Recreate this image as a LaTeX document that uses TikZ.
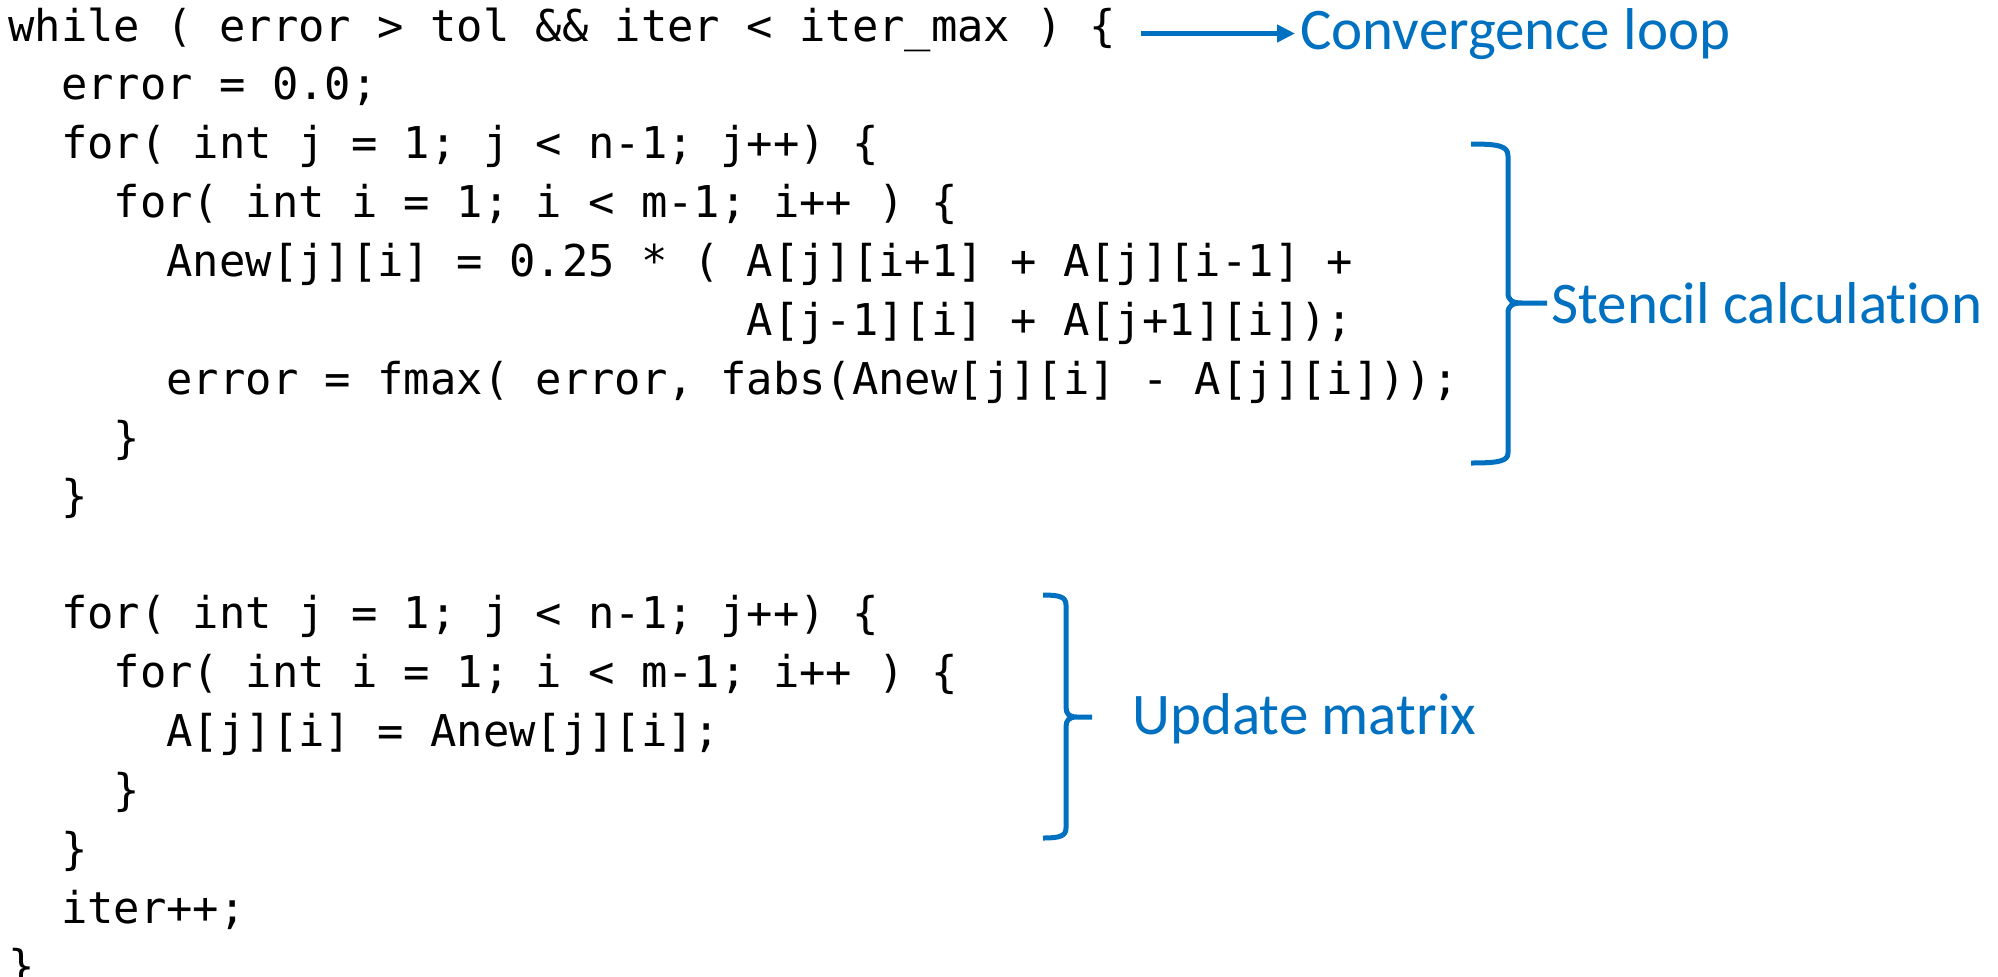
\documentclass[tikz,border=0pt]{standalone}
\usepackage{fontspec}
\setmonofont{DejaVu Sans Mono}
\newfontfamily\notefont[Ligatures={NoCommon,NoContextual,NoRare},Contextuals=NoAlternate]{Carlito}
\usetikzlibrary{arrows.meta,positioning}
\definecolor{codeblue}{HTML}{0070C0}
\tikzset{
  codeline/.style={inner sep=0pt, text height=20pt, text depth=9.03pt,
    font=\ttfamily\fontsize{21.9}{29}\selectfont\frenchspacing},
  note/.style={inner sep=0pt, anchor=base west, text=codeblue,
    font=\notefont\fontsize{29.5}{35}\selectfont},
  bracket/.style={draw=codeblue, line width=2.5pt, line join=round},
  pointer/.style={draw=codeblue, line width=2.5pt,
    -{Triangle[length=9pt,width=8.5pt]}, shorten >=2.5pt}
}

\begin{document}
\begin{tikzpicture}[x=0.5pt,y=-0.5pt]
        \useasboundingbox (0,0) rectangle (1998,976);
        % code lines
        \node[codeline, anchor=base west] (ln1) at (8,41) {while ( error > tol \&\& iter < iter\_max ) \{};
        \node[codeline, below=0pt of ln1.south west, anchor=north west] (ln2) {~~error = 0.0;};
        \node[codeline, below=0pt of ln2.south west, anchor=north west] (ln3) {~~for( int j = 1; j < n-1; j++) \{};
        \node[codeline, below=0pt of ln3.south west, anchor=north west] (ln4) {~~~~for( int i = 1; i < m-1; i++ ) \{};
        \node[codeline, below=0pt of ln4.south west, anchor=north west] (ln5) {~~~~~~Anew[j][i] = 0.25 * ( A[j][i+1] + A[j][i-1] +};
        \node[codeline, below=0pt of ln5.south west, anchor=north west] (ln6) {~~~~~~\phantom{Anew[j][i] = 0.25 * ( }A[j-1][i] + A[j+1][i]);};
        \node[codeline, below=0pt of ln6.south west, anchor=north west] (ln7) {~~~~~~error = fmax( error, fabs(Anew[j][i] - A[j][i]));};
        \node[codeline, below=0pt of ln7.south west, anchor=north west] (ln8) {~~~~\}};
        \node[codeline, below=0pt of ln8.south west, anchor=north west] (ln9) {~~\}};
        \node[codeline, below=29.03pt of ln9.south west, anchor=north west] (ln10) {~~for( int j = 1; j < n-1; j++) \{};
        \node[codeline, below=0pt of ln10.south west, anchor=north west] (ln11) {~~~~for( int i = 1; i < m-1; i++ ) \{};
        \node[codeline, below=0pt of ln11.south west, anchor=north west] (ln12) {~~~~~~A[j][i] = Anew[j][i];};
        \node[codeline, below=0pt of ln12.south west, anchor=north west] (ln13) {~~~~\}};
        \node[codeline, below=0pt of ln13.south west, anchor=north west] (ln14) {~~\}};
        \node[codeline, below=0pt of ln14.south west, anchor=north west] (ln15) {~~iter++;};
        \node[codeline, below=0pt of ln15.south west, anchor=north west] (ln16) {\}};
        % notes
        \node[note] (conv) at (1300,49) {Convergence loop};
        \node[note] (stencil) at (1551,323) {Stencil calculation};
        \node[note] (update) at (1132,734) {Update matrix};
        \coordinate (convfrom) at ([xshift=12.5pt,yshift=3.75pt]ln1.base east);
        \draw[pointer] (convfrom) -- (convfrom -| conv.west);
        % braces
        \draw[bracket] (1471,144) .. controls (1499,144) and (1508,146) .. (1508,156) -- (1508,293)
          .. controls (1508,300) and (1512,303) .. (1522,303) -- (1547,303)
          (1522,303) .. controls (1512,303) and (1508,306) .. (1508,313) -- (1508,453)
          .. controls (1508,461) and (1499,463) .. (1471,463);
        \draw[bracket] (1043,595) .. controls (1060,595) and (1066,597) .. (1066,605) -- (1066,707)
          .. controls (1066,714) and (1069,717) .. (1077,717) -- (1092,717)
          (1077,717) .. controls (1069,717) and (1066,720) .. (1066,727) -- (1066,828)
          .. controls (1066,836) and (1060,838) .. (1043,838);
      \end{tikzpicture}
\end{document}
